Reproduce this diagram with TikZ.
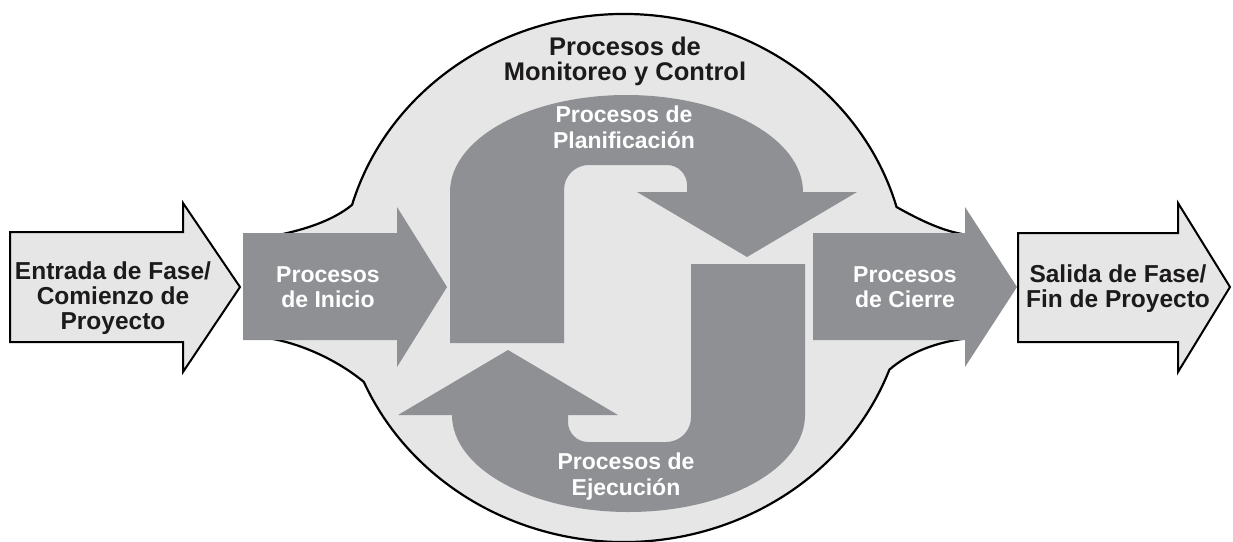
\documentclass[tikz,border=0pt]{standalone}
\usepackage{fontspec}
\setmainfont{Liberation Sans}
\definecolor{darkg}{RGB}{142,144,148}
\definecolor{lightg}{RGB}{230,230,231}
\definecolor{inkb}{RGB}{28,26,27}
\tikzset{
  blob/.style={fill=lightg, draw=black, line width=2.2pt, line join=round},
  darkarrow/.style={fill=darkg, draw=none},
  lightarrow/.style={fill=lightg, draw=black, line width=2pt, line join=miter},
  whitetxt/.style={text=white, font=\fontsize{23}{25.5}\selectfont\bfseries, align=center, inner sep=0pt},
  blacktxt/.style={text=inkb, font=\fontsize{24.5}{25}\selectfont\bfseries, align=center, inner sep=0pt},
  titletxt/.style={text=inkb, font=\fontsize{25.5}{25}\selectfont\bfseries, align=center, inner sep=0pt}
}
\begin{document}
\begin{tikzpicture}[x=1pt,y=-1pt]
\useasboundingbox (0,0) rectangle (1233,541);
% monitoring and control blob
\path[blob] (283,234) .. controls (310,228) and (335,219) .. (352.1,204.8)
  arc[start angle=196.1,end angle=344.4,x radius=283,y radius=264]
  .. controls (918,219) and (940,230) .. (962,234) -- (962,339)
  .. controls (935,343) and (910,352) .. (889.4,369.6)
  arc[start angle=20.3,end angle=156.8,x radius=283,y radius=264]
  .. controls (340,362) and (305,345) .. (273,339) -- cycle;
% planning U-arrow
\path[darkarrow] (450,343) -- (450,192)
  arc[start angle=180,end angle=360,x radius=176.5,y radius=97]
  -- (857,192) -- (747,257) -- (637,192) -- (687,192) -- (687,185)
  .. controls (687,174) and (678,165) .. (667,165) -- (589,165)
  .. controls (575,165) and (564,176) .. (564,190) -- (564,343) -- cycle;
% execution U-arrow (point symmetric)
\begin{scope}[rotate around={180:(627.5,303.5)}]
\path[darkarrow] (450,343) -- (450,192)
  arc[start angle=180,end angle=360,x radius=176.5,y radius=97]
  -- (857,192) -- (747,257) -- (637,192) -- (687,192) -- (687,185)
  .. controls (687,174) and (678,165) .. (667,165) -- (589,165)
  .. controls (575,165) and (564,176) .. (564,190) -- (564,343) -- cycle;
\end{scope}
% initiating and closing arrows
\path[darkarrow] (243,233) -- (397,233) -- (397,207) -- (447,287) -- (397,367) -- (397,340) -- (243,340) -- cycle;
\path[darkarrow] (813,233) -- (965,233) -- (965,207) -- (1017,287) -- (965,367) -- (965,340) -- (813,340) -- cycle;
% input and output arrows
\path[lightarrow] (10,232) -- (183,232) -- (183,203) -- (240,287) -- (183,372) -- (183,342) -- (10,342) -- cycle;
\path[lightarrow] (1018,233) -- (1178,233) -- (1178,203) -- (1230,287) -- (1178,372) -- (1178,342) -- (1018,342) -- cycle;
% texts
\node[titletxt] (mc) at (625,61) {Procesos de\\Monitoreo y Control};
\node[whitetxt] (plan) at (624,127.5) {Procesos de\\Planificación};
\node[whitetxt] (exec) at (626,476.5) {Procesos de\\Ejecución};
\node[whitetxt] (ini) at (328,287) {Procesos\\de Inicio};
\node[whitetxt] (cie) at (905,287) {Procesos\\de Cierre};
\node[blacktxt] (in) at (113,298.5) {Entrada de Fase/\\Comienzo de\\Proyecto};
\node[blacktxt] (out) at (1118,289) {Salida de Fase/\\Fin de Proyecto};
\end{tikzpicture}
\end{document}
